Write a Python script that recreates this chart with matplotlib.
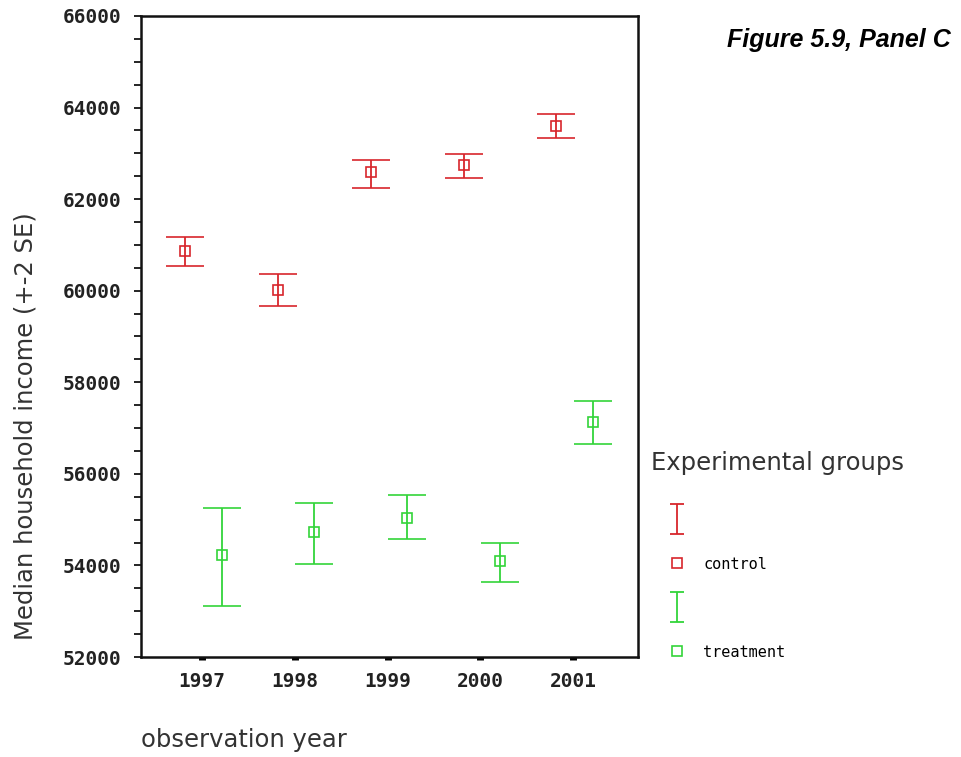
import numpy as np
import matplotlib
matplotlib.use('Agg')
import matplotlib.pyplot as plt
from matplotlib.lines import Line2D
from matplotlib.path import Path
from matplotlib.ticker import MultipleLocator

# values
years = ['1997', '1998', '1999', '2000', '2001']
control_mean = [60870, 60020, 62590, 62740, 63590]
control_low = [60540, 59670, 62240, 62460, 63330]
control_high = [61170, 60370, 62850, 62980, 63850]
treatment_mean = [54220, 54720, 55040, 54090, 57130]
treatment_low = [53110, 54040, 54570, 53630, 56650]
treatment_high = [55260, 55370, 55540, 54500, 57590]

red = '#d8262c'
green = '#33d43a'
grey = '#333333'

fig = plt.figure(figsize=(9.61, 7.57), dpi=100)
ax = fig.add_axes([0.1467, 0.1321, 0.5172, 0.8468])

x = np.arange(1, len(years) + 1)

def draw(offset, mean, low, high, color):
    mean = np.array(mean)
    yerr = [mean - np.array(low), np.array(high) - mean]
    ax.errorbar(x + offset, mean, yerr=yerr, fmt='s', color=color,
                mfc='none', mec=color, ms=7.5, mew=1.2, elinewidth=1.3,
                capsize=13.5, capthick=1.3)

draw(-0.18, control_mean, control_low, control_high, red)
draw(0.21, treatment_mean, treatment_low, treatment_high, green)

ax.set_xlim(0.34, 5.70)
ax.set_ylim(52000, 66000)
ax.set_xticks(x)
ax.set_xticklabels(years)
ax.yaxis.set_major_locator(MultipleLocator(2000))
ax.yaxis.set_minor_locator(MultipleLocator(500))

for lab in ax.get_xticklabels() + ax.get_yticklabels():
    lab.set_fontfamily('DejaVu Sans Mono')
    lab.set_fontweight('bold')
    lab.set_fontsize(14)
    lab.set_color('#222222')

ax.tick_params(axis='y', which='both', direction='out', length=5, width=1.2, pad=9)
ax.tick_params(axis='x', direction='out', length=2.5, width=5, pad=8)

for s in ax.spines.values():
    s.set_linewidth(1.8)
    s.set_color('#111111')

fig.text(0.027, 0.437, 'Median household income (+-2 SE)', rotation=90,
         ha='center', va='center', fontsize=17.5, color=grey)
fig.text(0.147, 0.022, 'observation year', ha='left', va='center',
         fontsize=17.5, color=grey)

fig.text(0.989, 0.947, 'Figure 5.9, Panel C', ha='right', va='center',
         fontsize=18, fontweight='bold', fontstyle='italic',
         family='Liberation Sans')

# legend
fig.text(0.677, 0.388, 'Experimental groups', ha='left', va='center',
         fontsize=17.5, color=grey)
ibar = Path([(-0.25, 0.5), (0.25, 0.5), (0, 0.5), (0, -0.5), (-0.25, -0.5), (0.25, -0.5)],
            [Path.MOVETO, Path.LINETO, Path.MOVETO, Path.LINETO, Path.MOVETO, Path.LINETO])
handles = [
    Line2D([], [], ls='none', marker=ibar, ms=21, mec=red, mew=1.3),
    Line2D([], [], ls='none', marker='s', ms=7, mfc='none', mec=red, mew=1.2),
    Line2D([], [], ls='none', marker=ibar, ms=21, mec=green, mew=1.3),
    Line2D([], [], ls='none', marker='s', ms=7, mfc='none', mec=green, mew=1.2),
]
labels = ['', 'control', '', 'treatment']
leg = fig.legend(handles, labels, loc='upper left', bbox_to_anchor=(0.670, 0.333),
                 frameon=False, labelspacing=1.9, handlelength=3.4,
                 handletextpad=0.0, borderpad=0.0,
                 prop=dict(family='DejaVu Sans Mono', size=11))

fig.savefig('out.png', dpi=100)
